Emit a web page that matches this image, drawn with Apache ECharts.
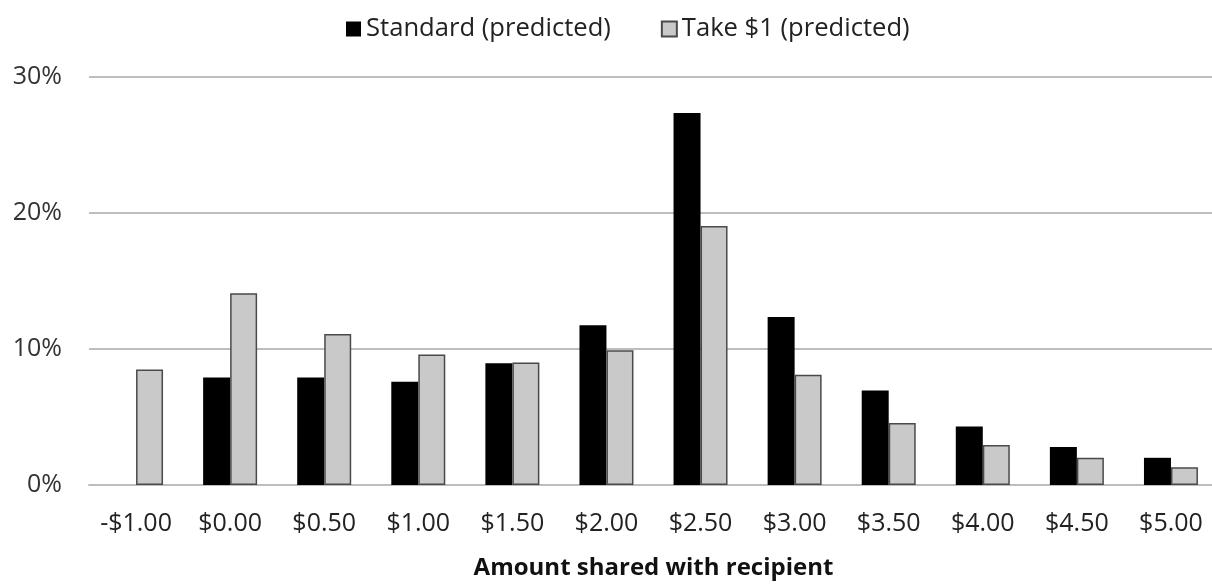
<!DOCTYPE html>
<html>
<head>
<meta charset="utf-8">
<script src="https://cdn.jsdelivr.net/npm/echarts@6/dist/echarts.min.js"></script>
<style>
  html, body { margin: 0; padding: 0; background: #fff; }
  #chart { width: 1212px; height: 585px; }
</style>
</head>
<body>
<div id="chart"></div>
<script>
// Share amounts (x-axis categories)
const categories = ['-$1.00', '$0.00', '$0.50', '$1.00', '$1.50', '$2.00', '$2.50', '$3.00', '$3.50', '$4.00', '$4.50', '$5.00'];
// Predicted share of participants, in percent
const standardPredicted = [0, 7.9, 7.9, 7.6, 8.95, 11.75, 27.35, 12.35, 6.95, 4.3, 2.8, 2.0];
const take1Predicted = [8.5, 14.1, 11.1, 9.6, 9.0, 9.9, 19.05, 8.1, 4.55, 2.95, 2.0, 1.3];
// Y-axis ticks (percent)
const yTicks = [0, 10, 20, 30];

const FONT = '"Open Sans", "DejaVu Sans", sans-serif';
const chart = echarts.init(document.getElementById('chart'), null, { renderer: 'canvas' });

chart.setOption({
  animation: false,
  backgroundColor: '#ffffff',
  textStyle: { fontFamily: FONT },
  legend: {
    top: 11,
    left: 341,
    icon: 'rect',
    itemWidth: 15,
    itemHeight: 15,
    itemGap: 50,
    textStyle: { fontSize: 25.6, color: '#222', fontFamily: FONT },
    data: ['Standard (predicted)', 'Take $1 (predicted)']
  },
  grid: { left: 89, top: 77, width: 1129, height: 408, containLabel: false, outerBoundsMode: 'none' },
  xAxis: {
    type: 'category',
    data: categories,
    axisLine: { show: true, lineStyle: { color: '#bdbdbd', width: 2 } },
    axisTick: { show: false },
    axisLabel: { fontSize: 25, color: '#222', margin: 26, fontFamily: FONT },
    name: 'Amount shared with recipient',
    nameLocation: 'middle',
    nameGap: 71,
    nameTextStyle: { fontSize: 24, fontWeight: 'bold', color: '#111', fontFamily: FONT }
  },
  yAxis: {
    type: 'value',
    min: yTicks[0],
    max: yTicks[yTicks.length - 1],
    interval: 10,
    axisLine: { show: false },
    axisTick: { show: false },
    splitLine: { lineStyle: { color: '#bdbdbd', width: 2 } },
    axisLabel: { fontSize: 25, color: '#333', margin: 27, formatter: v => v + '%', fontFamily: FONT }
  },
  series: [
    {
      name: 'Standard (predicted)',
      type: 'bar',
      data: standardPredicted,
      barWidth: 27,
      barGap: '0%',
      itemStyle: { color: '#000000' }
    },
    {
      name: 'Take $1 (predicted)',
      type: 'bar',
      data: take1Predicted,
      barWidth: 27,
      barGap: '0%',
      itemStyle: { color: '#c9c9c9', borderColor: '#4a4a4a', borderWidth: 1.5 }
    }
  ]
});
</script>
</body>
</html>
